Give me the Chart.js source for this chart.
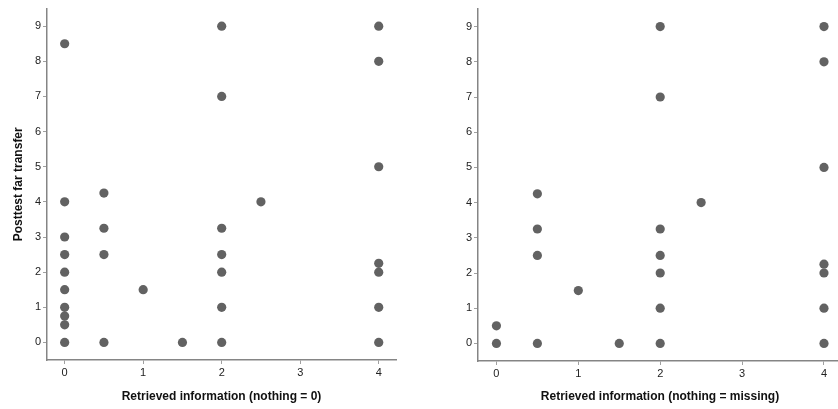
<!DOCTYPE html>
<html>
<head>
<meta charset="utf-8">
<script src="https://cdn.jsdelivr.net/npm/chart.js@4/dist/chart.umd.min.js"></script>
<style>
html,body{margin:0;padding:0;background:#fff;overflow:hidden;width:838px;height:409px;}
canvas{position:absolute;top:0;}
#c1{left:0;}
#c2{left:420px;}
</style>
</head>
<body>
<canvas id="c1" width="420" height="409"></canvas>
<canvas id="c2" width="440" height="409"></canvas>
<script>
// Left panel: Retrieved information (nothing = 0)
const leftX = [0,0,0,0,0,0,0,0,0,0, 0.5,0.5,0.5,0.5, 1, 1.5, 2,2,2,2,2,2,2, 2.5, 4,4,4,4,4,4,4];
const leftY = [8.5,4,3,2.5,2,1.5,1,0.75,0.5,0, 4.25,3.25,2.5,0, 1.5, 0, 9,7,3.25,2.5,2,1,0, 4, 9,8,5,2.25,2,1,0];
// Right panel: Retrieved information (nothing = missing)
const rightX = [0,0, 0.5,0.5,0.5,0.5, 1, 1.5, 2,2,2,2,2,2,2, 2.5, 4,4,4,4,4,4,4];
const rightY = [0.5,0, 4.25,3.25,2.5,0, 1.5, 0, 9,7,3.25,2.5,2,1,0, 4, 9,8,5,2.25,2,1,0];
const xTicks = [0,1,2,3,4];
const yTicks = [0,1,2,3,4,5,6,7,8,9];
const yTitle = 'Posttest far transfer';
const xTitleLeft = 'Retrieved information (nothing = 0)';
const xTitleRight = 'Retrieved information (nothing = missing)';

const FONT = '"Liberation Sans", Arial, sans-serif';

function makeChart(id, xs, ys, xTitle, showYTitle, yWidth, xHeight, pad) {
  const pts = xs.map((x, i) => ({x: x, y: ys[i]}));
  return new Chart(document.getElementById(id), {
    type: 'scatter',
    data: { datasets: [{ data: pts, backgroundColor: '#626262', borderWidth: 0, pointRadius: 4.6, pointHoverRadius: 4.6 }] },
    options: {
      responsive: false, animation: false, events: [],
      layout: { padding: pad },
      plugins: { legend: { display: false }, tooltip: { enabled: false } },
      scales: {
        x: {
          type: 'linear', min: -0.225, max: 4.22,
          afterBuildTicks: s => { s.ticks = xTicks.map(v => ({value: v})); },
          afterFit: s => { s.height = xHeight; },
          border: { display: true, color: '#858585', width: 1.5 },
          grid: { display: true, drawOnChartArea: false, drawTicks: true, tickLength: 4, color: '#a0a0a0', lineWidth: 1 },
          ticks: { color: '#222', font: { family: FONT, size: 11 }, padding: 2, maxRotation: 0 },
          title: { display: true, text: xTitle, color: '#111', font: { family: FONT, size: 12, weight: 'bold' }, padding: { top: 0, bottom: 5 } }
        },
        y: {
          type: 'linear', min: -0.5, max: 9.5,
          afterBuildTicks: s => { s.ticks = yTicks.map(v => ({value: v})); },
          afterFit: s => { s.width = yWidth; },
          border: { display: true, color: '#858585', width: 1.5 },
          grid: { display: true, drawOnChartArea: false, drawTicks: true, tickLength: 4, color: '#a0a0a0', lineWidth: 1 },
          ticks: { color: '#222', font: { family: FONT, size: 11 }, padding: 2 },
          title: { display: showYTitle, text: yTitle, color: '#111', font: { family: FONT, size: 12, weight: 'bold' }, padding: { top: 11, bottom: 0 } }
        }
      }
    }
  });
}

makeChart('c1', leftX, leftY, xTitleLeft, true, 47, 49, { left: 0, top: 8, right: 24, bottom: 0 });
makeChart('c2', rightX, rightY, xTitleRight, false, 58, 48, { left: 0, top: 9, right: 18, bottom: 0 });
</script>
</body>
</html>
